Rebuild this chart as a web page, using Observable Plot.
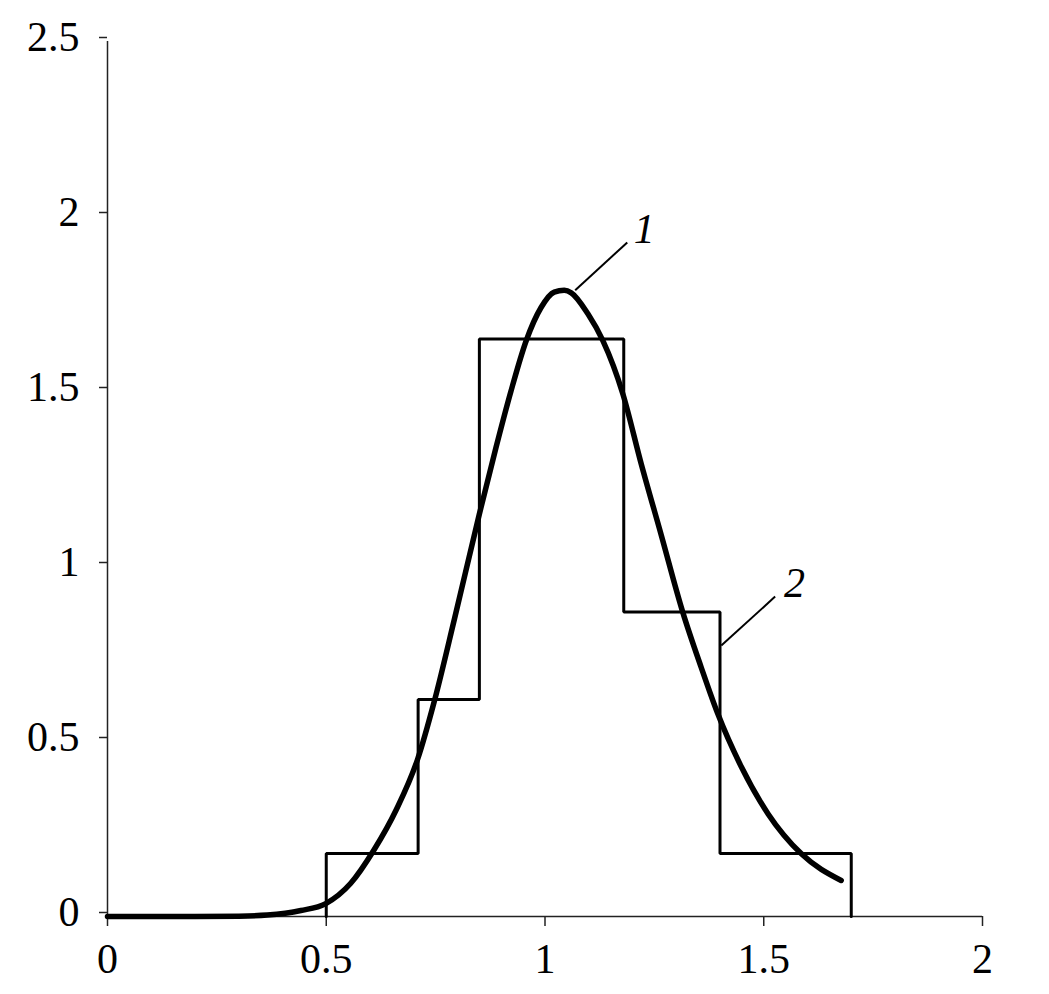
<!DOCTYPE html>
<html>
<head>
<meta charset="utf-8">
<script src="https://cdn.jsdelivr.net/npm/d3@7"></script>
<script src="https://cdn.jsdelivr.net/npm/@observablehq/plot@0.6"></script>
<style>
  html, body { margin: 0; padding: 0; background: #fff; }
</style>
</head>
<body>
<div id="chart"></div>
<script>
// Histogram (series 2)
const binEdges = [0.50, 0.71, 0.85, 1.18, 1.40, 1.70];
const binHeights = [0.18, 0.62, 1.65, 0.87, 0.18];

// Density curve (series 1)
const curveX = [0, 0.1, 0.2, 0.3, 0.365, 0.442, 0.499, 0.556, 0.609, 0.66, 0.709, 0.747, 0.793, 0.850, 0.888, 0.922, 0.957, 0.991, 1.021, 1.044, 1.060, 1.098, 1.132, 1.178, 1.220, 1.265, 1.315, 1.357, 1.395, 1.449, 1.510, 1.586, 1.677];
const curveY = [0, 0, 0, 0.001, 0.004, 0.017, 0.037, 0.095, 0.19, 0.305, 0.45, 0.615, 0.85, 1.15, 1.34, 1.50, 1.645, 1.74, 1.784, 1.789, 1.782, 1.722, 1.646, 1.493, 1.293, 1.093, 0.869, 0.712, 0.579, 0.427, 0.293, 0.179, 0.103];

// Axis ticks
const xTicks = [0, 0.5, 1, 1.5, 2];
const yTicks = [0, 0.5, 1, 1.5, 2, 2.5];

// Callout labels
const labelNames = ["1", "2"];
const labelX = [1.227, 1.570];
const labelY = [1.963, 0.951];
const leaderX1 = [1.069, 1.403];
const leaderY1 = [1.789, 0.774];
const leaderX2 = [1.188, 1.526];
const leaderY2 = [1.926, 0.914];

// Build tables
const curve = curveX.map((x, i) => ({x, y: curveY[i]}));
const steps = [{x: binEdges[0], y: 0}];
binHeights.forEach((h, i) => {
  steps.push({x: binEdges[i], y: h});
  steps.push({x: binEdges[i + 1], y: h});
});
steps.push({x: binEdges[binEdges.length - 1], y: 0});
const labels = labelNames.map((t, i) => ({t, x: labelX[i], y: labelY[i]}));
const leaders = labelNames.map((t, i) => ({x1: leaderX1[i], y1: leaderY1[i], x2: leaderX2[i], y2: leaderY2[i]}));

const FS = 42;
const chart = Plot.plot({
  width: 1049,
  height: 994,
  marginLeft: 107,
  marginRight: 67,
  marginTop: 41,
  marginBottom: 78,
  x: {domain: [0, 2]},
  y: {domain: [0, 2.5]},
  style: {fontFamily: "'Liberation Serif', 'Times New Roman', serif", fontSize: FS + "px", color: "black", background: "white"},
  marks: [
    Plot.ruleY([0], {stroke: "#222", strokeWidth: 1.5}),
    Plot.ruleX([0], {stroke: "#222", strokeWidth: 1.5}),
    Plot.axisX({ticks: xTicks, tickSize: 10, tickPadding: 17, label: null, stroke: "#222", strokeWidth: 1.5, fontSize: FS, tickFormat: d => String(d)}),
    Plot.axisY({ticks: yTicks, tickSize: 8, tickPadding: 20, label: null, stroke: "#222", strokeWidth: 1.5, fontSize: FS, dy: -4, tickFormat: d => String(d)}),
    Plot.line(steps, {x: "x", y: "y", stroke: "black", strokeWidth: 3, strokeLinejoin: "miter"}),
    Plot.line(curve, {x: "x", y: "y", stroke: "black", strokeWidth: 5.5, curve: "monotone-x", strokeLinecap: "round"}),
    Plot.link(leaders, {x1: "x1", y1: "y1", x2: "x2", y2: "y2", stroke: "black", strokeWidth: 2}),
    Plot.text(labels, {x: "x", y: "y", text: "t", fontStyle: "italic", fontSize: FS, fill: "black"})
  ]
});
document.getElementById("chart").appendChild(chart);
</script>
</body>
</html>
